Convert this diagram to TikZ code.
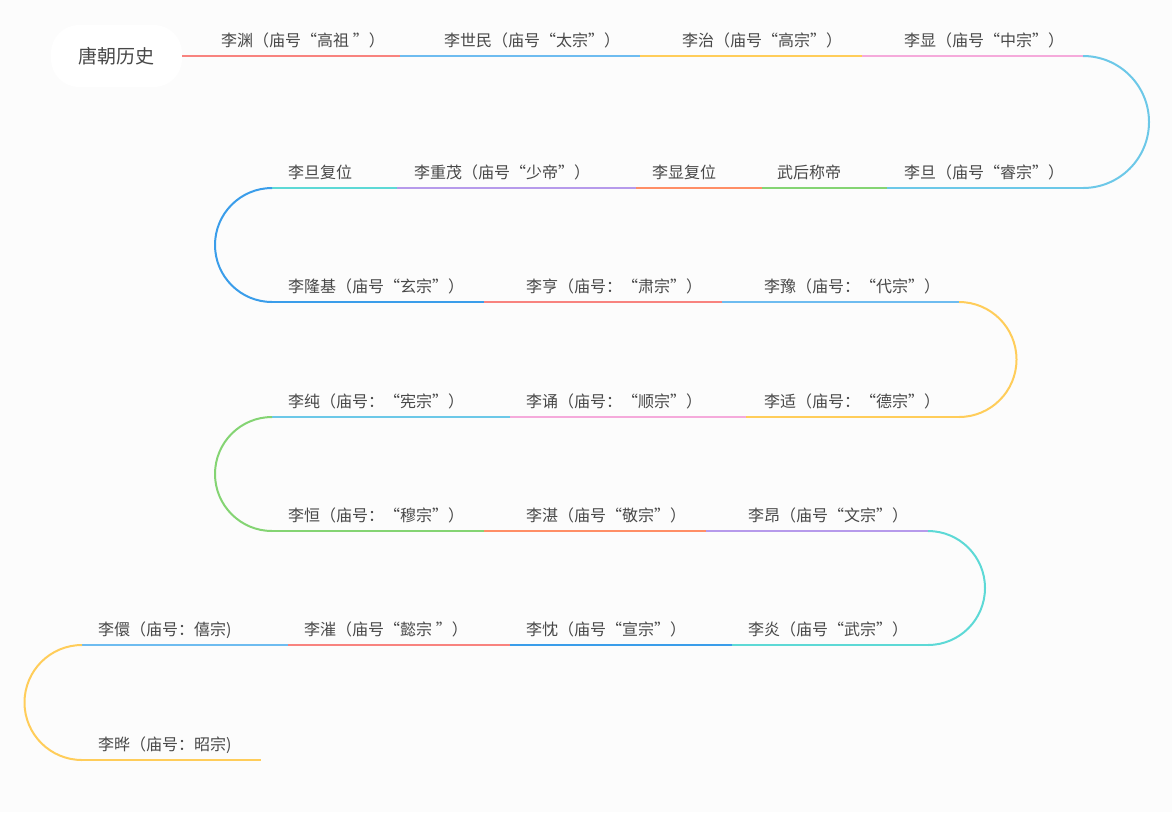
\documentclass[tikz,border=0pt]{standalone}
\usepackage{xcolor}
\usepackage{fontspec}
\setmainfont{Noto Sans CJK SC}
\usetikzlibrary{positioning,calc}

\definecolor{bgcol}{HTML}{FCFCFC}
\definecolor{txtcol}{HTML}{484848}
\definecolor{lred}{HTML}{F8837F}
\definecolor{lblue}{HTML}{6EBCF0}
\definecolor{lyellow}{HTML}{FFCD5A}
\definecolor{lpink}{HTML}{F5AADB}
\definecolor{lcyan}{HTML}{6CC8E8}
\definecolor{lteal}{HTML}{5DD9D6}
\definecolor{lpurple}{HTML}{B69AEB}
\definecolor{lorange}{HTML}{FF8E66}
\definecolor{lgreen}{HTML}{84D473}
\definecolor{dblue}{HTML}{3A9DEA}

\tikzset{
    seg/.style={line width=2pt},
    lbl/.style={anchor=base west, inner sep=0pt, text=txtcol, font=\fontsize{16}{19}\selectfont},
    rootbox/.style={fill=white, rounded corners=28pt, minimum width=131pt, minimum height=62pt,
        inner sep=0pt, text=txtcol, font=\fontsize{19}{22}\selectfont}
}

\begin{document}
\begin{tikzpicture}[x=1pt, y=-1pt]
    % Background
    \fill[bgcol] (0,0) rectangle (1172,812);
    \useasboundingbox (0,0) rectangle (1172,812);

    % Root
    \node[rootbox] (root) at (116.5,56) {唐朝历史};

    % Row 1
    \coordinate (a1) at (400,56);
    \coordinate (a2) at (640,56);
    \coordinate (a3) at (862,56);
    \coordinate (a4) at (1083,56);
    \draw[seg, lred] (root.east) -- (a1);
    \draw[seg, lblue] (a1) -- (a2);
    \draw[seg, lyellow] (a2) -- (a3);
    \draw[seg, lpink] (a3) -- (a4);
    \node[lbl] (liyuan) at (221,46) {李渊（庙号“高祖 ”）};
    \node[lbl] (lishimin) at (444,46) {李世民（庙号“太宗”）};
    \node[lbl] (lizhi) at (682,46) {李治（庙号“高宗”）};
    \node[lbl] (lixian) at (904,46) {李显（庙号“中宗”）};
    \draw[seg, lcyan] (a4) arc[start angle=90, end angle=-90, radius=66pt];

    % Row 2
    \coordinate (b0) at (272,188);
    \coordinate (b1) at (397,188);
    \coordinate (b2) at (636,188);
    \coordinate (b3) at (762,188);
    \coordinate (b4) at (887,188);
    \coordinate (b5) at (1083,188);
    \draw[seg, lcyan] (b5) -- (b4);
    \draw[seg, lgreen] (b4) -- (b3);
    \draw[seg, lorange] (b3) -- (b2);
    \draw[seg, lpurple] (b2) -- (b1);
    \draw[seg, lteal] (b1) -- (b0);
    \node[lbl] (lidan) at (904,178) {李旦（庙号“睿宗”）};
    \node[lbl] (wuhou) at (777,178) {武后称帝};
    \node[lbl] (xianfu) at (652,178) {李显复位};
    \node[lbl] (lichongmao) at (414,178) {李重茂（庙号“少帝”）};
    \node[lbl] (danfu) at (288,178) {李旦复位};
    \draw[seg, dblue] (b0) arc[start angle=90, end angle=270, radius=57pt];

    % Row 3
    \coordinate (c0) at (272,302);
    \coordinate (c1) at (484,302);
    \coordinate (c2) at (722,302);
    \coordinate (c3) at (959,302);
    \draw[seg, dblue] (c0) -- (c1);
    \draw[seg, lred] (c1) -- (c2);
    \draw[seg, lblue] (c2) -- (c3);
    \node[lbl] (lilongji) at (288,292) {李隆基（庙号“玄宗”）};
    \node[lbl] (liheng) at (526,292) {李亨（庙号：“肃宗”）};
    \node[lbl] (liyu) at (764,292) {李豫（庙号：“代宗”）};
    \draw[seg, lyellow] (c3) arc[start angle=90, end angle=-90, radius=57.5pt];

    % Row 4
    \coordinate (d0) at (272,417);
    \coordinate (d1) at (510,417);
    \coordinate (d2) at (746,417);
    \coordinate (d3) at (959,417);
    \draw[seg, lyellow] (d3) -- (d2);
    \draw[seg, lpink] (d2) -- (d1);
    \draw[seg, lcyan] (d1) -- (d0);
    \node[lbl] (likuo) at (764,407) {李适（庙号：“德宗”）};
    \node[lbl] (lisong) at (526,407) {李诵（庙号：“顺宗”）};
    \node[lbl] (lichun) at (288,407) {李纯（庙号：“宪宗”）};
    \draw[seg, lgreen] (d0) arc[start angle=90, end angle=270, radius=57pt];

    % Row 5
    \coordinate (e0) at (272,531);
    \coordinate (e1) at (484,531);
    \coordinate (e2) at (706,531);
    \coordinate (e3) at (928,531);
    \draw[seg, lgreen] (e0) -- (e1);
    \draw[seg, lorange] (e1) -- (e2);
    \draw[seg, lpurple] (e2) -- (e3);
    \node[lbl] (liheng2) at (288,521) {李恒（庙号：“穆宗”）};
    \node[lbl] (lizhan) at (526,521) {李湛（庙号“敬宗”）};
    \node[lbl] (liang) at (748,521) {李昂（庙号“文宗”）};
    \draw[seg, lteal] (e3) arc[start angle=90, end angle=-90, radius=57pt];

    % Row 6
    \coordinate (f0) at (82,645);
    \coordinate (f1) at (288,645);
    \coordinate (f2) at (510,645);
    \coordinate (f3) at (732,645);
    \coordinate (f4) at (928,645);
    \draw[seg, lteal] (f4) -- (f3);
    \draw[seg, dblue] (f3) -- (f2);
    \draw[seg, lred] (f2) -- (f1);
    \draw[seg, lblue] (f1) -- (f0);
    \node[lbl] (liyan) at (748,635) {李炎（庙号“武宗”）};
    \node[lbl] (lichen) at (526,635) {李忱（庙号“宣宗”）};
    \node[lbl] (licui) at (304,635) {李漼（庙号“懿宗 ”）};
    \node[lbl] (lixuan) at (98,635) {李儇（庙号：僖宗)};
    \draw[seg, lyellow] (f0) arc[start angle=90, end angle=270, radius=57.5pt];

    % Row 7
    \coordinate (g0) at (82,760);
    \coordinate (g1) at (261,760);
    \draw[seg, lyellow] (g0) -- (g1);
    \node[lbl] (liye) at (98,750) {李晔（庙号：昭宗)};
\end{tikzpicture}
\end{document}
